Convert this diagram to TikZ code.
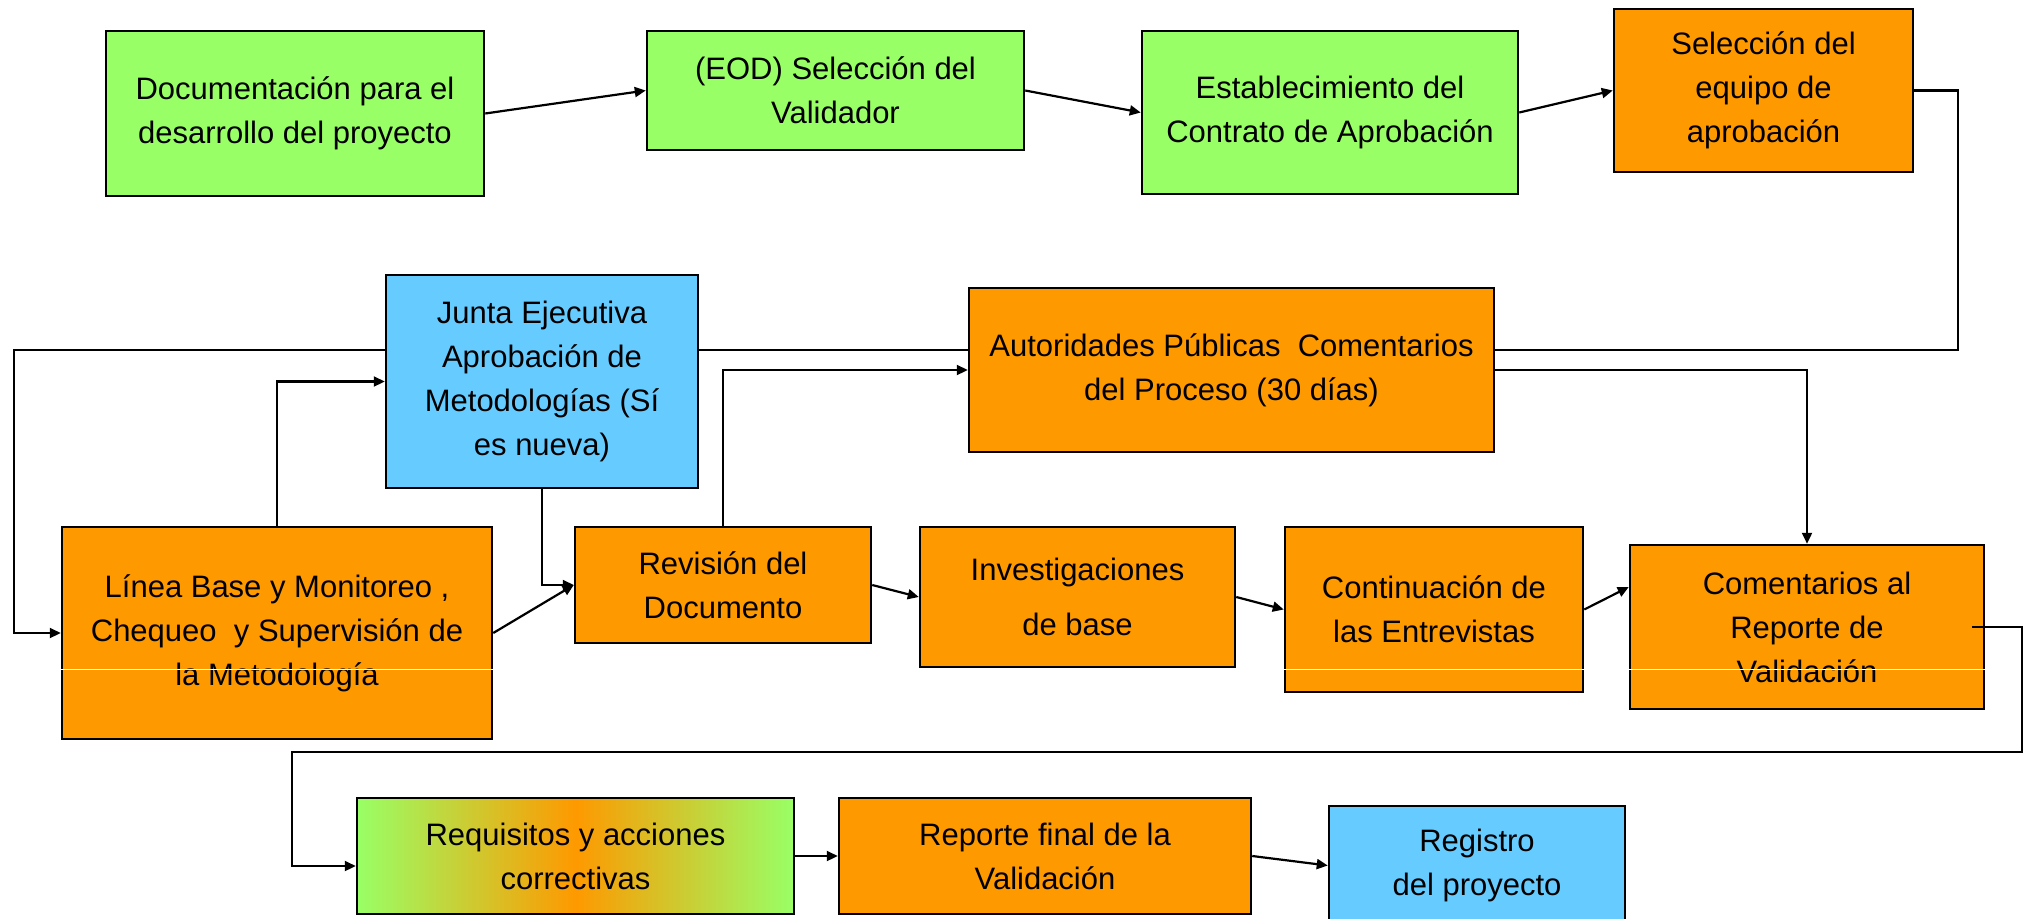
\documentclass[tikz,border=0pt]{standalone}
\usepackage{fontspec}
\setmainfont{Liberation Sans}
\usepackage{tikz}
\usetikzlibrary{arrows.meta, positioning, calc, backgrounds}
\definecolor{greencolor}{RGB}{153, 255, 102}
\definecolor{orangecolor}{RGB}{255, 153, 0}
\definecolor{bluecolor}{RGB}{102, 204, 255}

\begin{document}
\begin{tikzpicture}[
    x=1pt, y=-1pt,
    stage/.style={draw, line width=2.5pt, fill=#1, align=center, inner sep=0pt, font=\fontsize{31}{44}\selectfont},
    arrow/.style={line width=2.2pt, -{Triangle[length=11pt, width=10pt]}},
    crease/.style={white, line width=1pt}
]
    \useasboundingbox (0,0) rectangle (2031,918);

    % Top row
    \node[stage=greencolor, minimum width=378pt, minimum height=165pt] (doc) at (295, 113.5) {Documentación para el\\desarrollo del proyecto};
    \node[stage=greencolor, minimum width=377pt, minimum height=119pt] (eod) at (835.5, 90.5) {(EOD) Selección del\\Validador};
    \node[stage=greencolor, minimum width=376pt, minimum height=163pt] (est) at (1330, 112.5) {Establecimiento del\\Contrato de Aprobación};
    \node[stage=orangecolor, minimum width=299pt, minimum height=163pt] (sel) at (1763.5, 90.5) {Selección del\\equipo de\\aprobación};

    % Middle row
    \node[stage=bluecolor, minimum width=312pt, minimum height=213pt] (junta) at (542, 381.5) {Junta Ejecutiva\\Aprobación de\\Metodologías (Sí\\es nueva)};
    \node[stage=orangecolor, minimum width=525pt, minimum height=164pt] (aut) at (1231.5, 370) {Autoridades Públicas~ Comentarios\\del Proceso (30 días)};

    % Review row
    \node[stage=orangecolor, minimum width=430pt, minimum height=212pt] (linea) at (277, 633) {Línea Base y Monitoreo ,\\Chequeo~ y Supervisión de\\la Metodología};
    \node[stage=orangecolor, minimum width=296pt, minimum height=116pt] (rev) at (723, 585) {Revisión del\\Documento};
    \node[stage=orangecolor, minimum width=315pt, minimum height=140pt] (inv) at (1077.5, 597) {Investigaciones\\[11pt]de base};
    \node[stage=orangecolor, minimum width=298pt, minimum height=165pt] (cont) at (1434, 609.5) {Continuación de\\las Entrevistas};
    \node[stage=orangecolor, minimum width=354pt, minimum height=164pt] (com) at (1807, 627) {Comentarios al\\Reporte de\\Validación};

    % Bottom row
    \node[stage=greencolor, left color=greencolor, right color=greencolor, middle color=orangecolor, minimum width=437pt, minimum height=116pt] (req) at (575.5, 856) {Requisitos y acciones\\correctivas};
    \node[stage=orangecolor, minimum width=412pt, minimum height=116pt] (rep) at (1045, 856) {Reporte final de la\\Validación};
    \node[stage=bluecolor, minimum width=296pt, minimum height=119pt] (reg) at (1477, 865.5) {Registro\\del proyecto};

    \draw[crease] ($(linea.west)+(0,36)$) -- ($(linea.east)+(0,36)$);
    \draw[crease] ($(cont.west)+(0,59.5)$) -- ($(cont.east)+(0,59.5)$);
    \draw[crease] ($(com.west)+(0,42)$) -- ($(com.east)+(0,42)$);

    % Flow
    \coordinate (selR) at (1958, 350);
    \coordinate (loopL) at (14, 350);
    \coordinate (retR) at (2022, 752);
    \coordinate (retL) at (292, 752);

    \draw[arrow] (doc.east) -- (eod.west);
    \draw[arrow] (eod.east) -- (est.west);
    \draw[arrow] (est.east) -- (sel.west);
    \begin{scope}[on background layer]
        \draw[arrow] (sel.east) -| (selR) -- (loopL) |- (linea.west);
    \end{scope}
    \draw[arrow] (linea.north) |- (junta.west);
    \draw[arrow] (junta.south) |- (rev.west);
    \draw[arrow] (linea.east) -- (rev.west);
    \draw[arrow] (rev.north) |- (aut.west);
    \draw[arrow] (aut.east) -| (com.north);
    \draw[arrow] (rev.east) -- (inv.west);
    \draw[arrow] (inv.east) -- (cont.west);
    \draw[arrow] (cont.east) -- ($(com.west)+(0,-40)$);
    \draw[arrow] ($(com.east)+(-13,0)$) -| (retR) -- (retL) |- ($(req.west)+(0,10)$);
    \draw[arrow] (req.east) -- (rep.west);
    \draw[arrow] (rep.east) -- (reg.west);

\end{tikzpicture}
\end{document}
